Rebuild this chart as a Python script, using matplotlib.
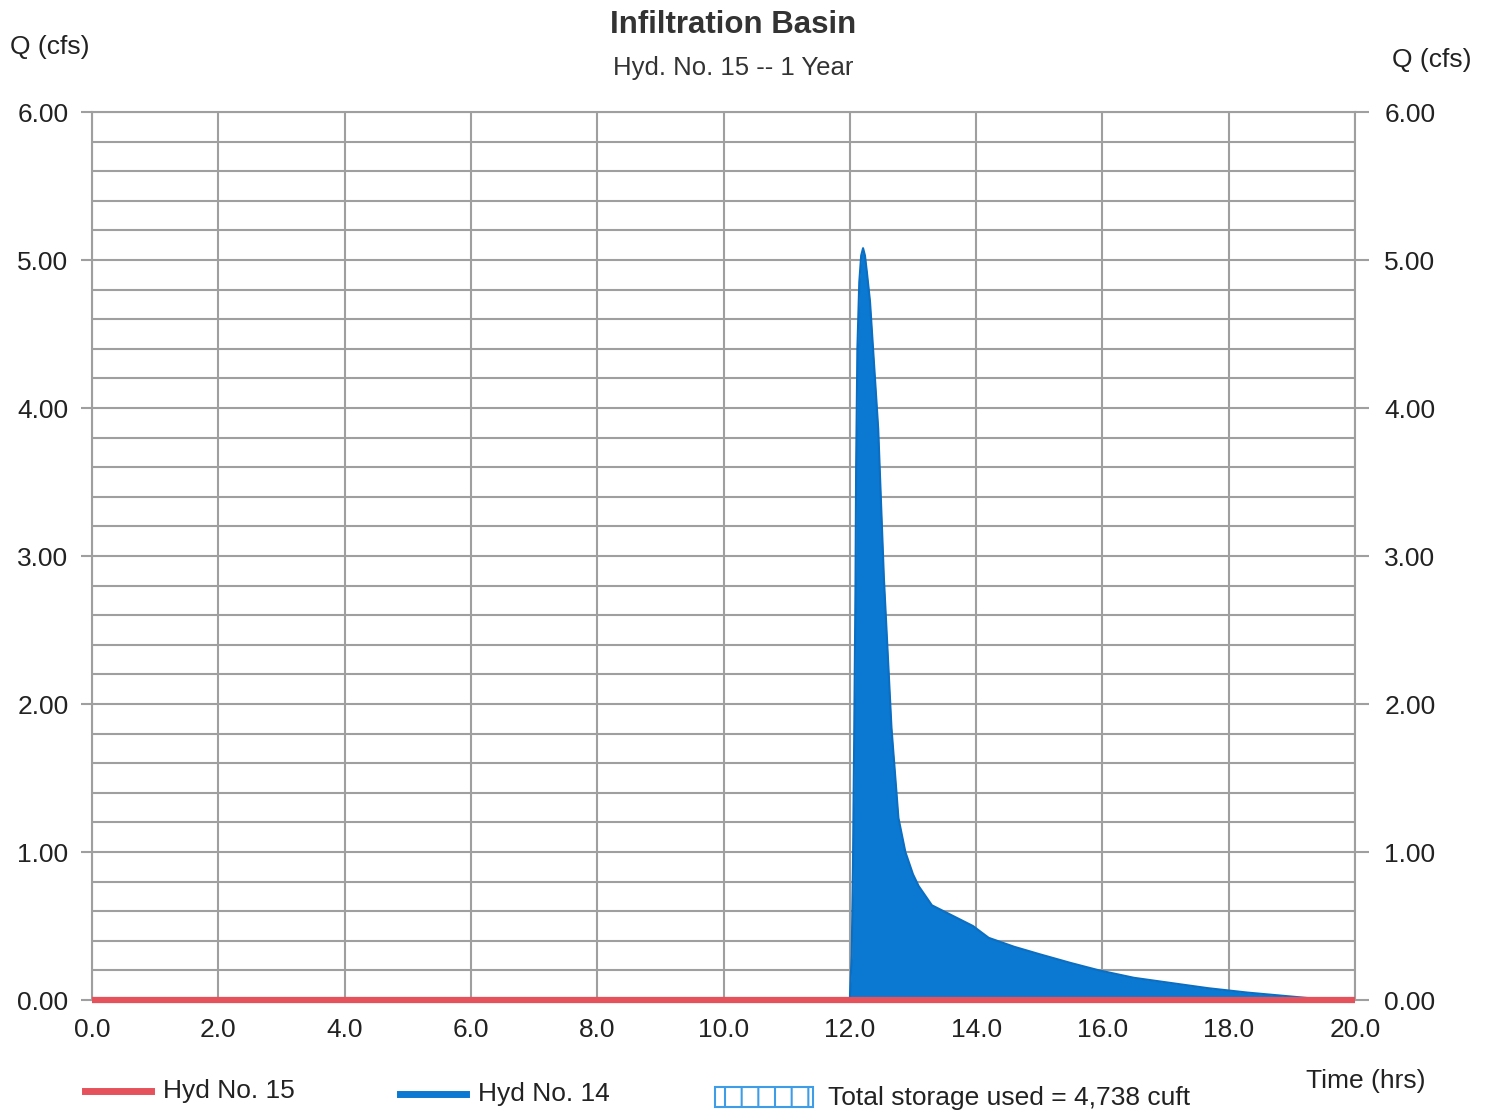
import matplotlib
matplotlib.use("Agg")
import matplotlib.pyplot as plt
from matplotlib.ticker import MultipleLocator, FormatStrFormatter
from matplotlib.lines import Line2D
from matplotlib.patches import Rectangle

plt.rcParams['font.family'] = ['Liberation Sans', 'DejaVu Sans']
plt.rcParams['hatch.linewidth'] = 1.5

# Hyd No. 14 - inflow hydrograph (hrs, cfs)
hyd14_time = [0.0, 12.00, 12.03, 12.05, 12.07, 12.09, 12.10, 12.12, 12.15, 12.18,
              12.21, 12.24, 12.27, 12.32, 12.45, 12.54, 12.66, 12.77, 12.88, 13.00,
              13.09, 13.30, 13.95, 14.20, 14.60, 15.00, 15.50, 15.95, 16.50, 17.00,
              17.67, 18.30, 19.08, 19.60, 20.0]
hyd14_q = [0.0, 0.0, 0.3, 0.9, 1.8, 2.8, 3.6, 4.4, 4.85, 5.03,
           5.08, 5.03, 4.92, 4.72, 3.86, 2.85, 1.84, 1.23, 1.00, 0.85,
           0.77, 0.64, 0.50, 0.42, 0.36, 0.31, 0.25, 0.20, 0.15, 0.12,
           0.08, 0.05, 0.02, 0.0, 0.0]

# Hyd No. 15 - basin outflow (hrs, cfs)
hyd15_time = [0.0, 20.0]
hyd15_q = [0.0, 0.0]

x_ticks = [0, 2, 4, 6, 8, 10, 12, 14, 16, 18, 20]
y_ticks = [0, 1, 2, 3, 4, 5, 6]
storage_used = "4,738"

W, H = 1490, 1114
grid_col = '#9f9f9f'
txt_col = '#222222'
blue = '#0b78d2'
red = '#e6525b'


def fx(x):
    return x / W


def fy(y):
    return 1 - y / H


fig = plt.figure(figsize=(W / 100, H / 100), dpi=100)
ax = fig.add_axes([fx(92), fy(1000), (1355 - 92) / W, (1000 - 112) / H])

ax.fill_between(hyd14_time, hyd14_q, 0, color=blue, lw=0, zorder=2)
ax.plot(hyd14_time, hyd14_q, color='#0a6ec2', lw=1.5, zorder=2,
        solid_joinstyle='round')
ax.plot(hyd15_time, hyd15_q, color=red, lw=4.5, zorder=3,
        solid_capstyle='butt', clip_on=False)

ax.set_xlim(0, 20)
ax.set_ylim(0, 6)
ax.set_xticks(x_ticks)
ax.set_yticks(y_ticks)
ax.yaxis.set_minor_locator(MultipleLocator(0.2))
ax.xaxis.set_major_formatter(FormatStrFormatter('%.1f'))
ax.yaxis.set_major_formatter(FormatStrFormatter('%.2f'))
ax.set_axisbelow(True)
ax.grid(True, which='major', color=grid_col, lw=1.5)
ax.grid(True, which='minor', axis='y', color=grid_col, lw=1.5)
for s in ax.spines.values():
    s.set_color(grid_col)
    s.set_linewidth(1.5)
ax.tick_params(axis='x', length=0, pad=13, labelsize=19, labelcolor=txt_col)
ax.tick_params(axis='y', which='major', length=8, width=1.5, color=grid_col,
               pad=9, labelsize=19, labelcolor=txt_col)
ax.tick_params(axis='y', which='minor', length=0)

# right-hand Q axis
ax2 = ax.twinx()
ax2.set_ylim(ax.get_ylim())
ax2.set_yticks(y_ticks)
ax2.yaxis.set_major_formatter(FormatStrFormatter('%.2f'))
ax2.tick_params(axis='y', length=10, width=1.5, color=grid_col, pad=11,
                labelsize=19, labelcolor=txt_col)
for s in ax2.spines.values():
    s.set_visible(False)

# titles and axis captions
fig.text(fx(733), fy(25), "Infiltration Basin", ha='center', va='center',
         fontsize=22.5, fontweight='bold', color='#333333')
fig.text(fx(733), fy(68), "Hyd. No. 15 -- 1 Year", ha='center', va='center',
         fontsize=18.5, color='#333333')
fig.text(fx(10), fy(47), "Q (cfs)", ha='left', va='center', fontsize=19, color=txt_col)
fig.text(fx(1472), fy(60), "Q (cfs)", ha='right', va='center', fontsize=19, color=txt_col)
fig.text(fx(1425), fy(1081), "Time (hrs)", ha='right', va='center', fontsize=19, color=txt_col)

# legend row along the bottom
fig.add_artist(Line2D([fx(85), fx(151)], [fy(1091), fy(1091)], color=red, lw=5))
fig.text(fx(163), fy(1091), "Hyd No. 15", ha='left', va='center', fontsize=19, color=txt_col)
fig.add_artist(Line2D([fx(400), fx(466)], [fy(1094), fy(1094)], color=blue, lw=5))
fig.text(fx(478), fy(1094), "Hyd No. 14", ha='left', va='center', fontsize=19, color=txt_col)
fig.add_artist(Rectangle((fx(715), fy(1107)), (813 - 715) / W, 20 / H,
                         facecolor='white', edgecolor='#3f9de8', lw=1.5, hatch='|'))
fig.text(fx(828), fy(1098), "Total storage used = %s cuft" % storage_used,
         ha='left', va='center', fontsize=19, color=txt_col)

fig.savefig("out.png", dpi=100, facecolor='white')
